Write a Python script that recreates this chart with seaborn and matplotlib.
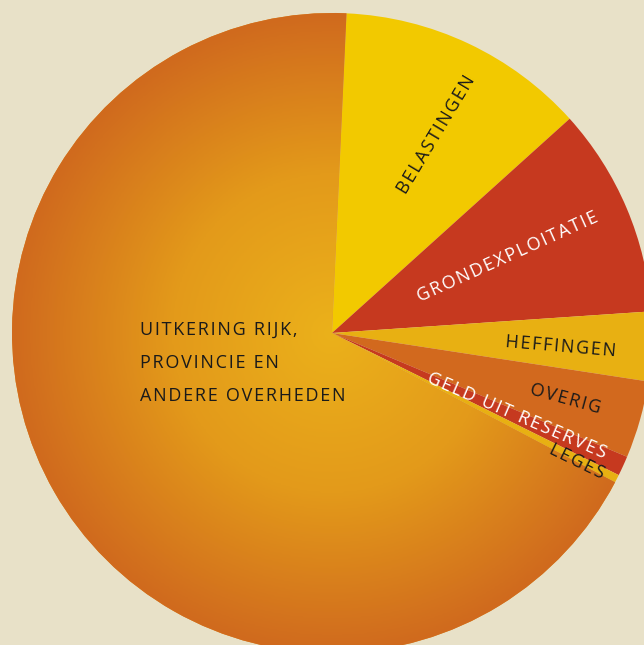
import numpy as np
import matplotlib
matplotlib.use("Agg")
import matplotlib.pyplot as plt
import seaborn as sns
from matplotlib.colors import LinearSegmentedColormap

# shares of the income (percent), clockwise from the top
labels = ["BELASTINGEN", "GRONDEXPLOITATIE", "HEFFINGEN", "OVERIG",
          "GELD UIT RESERVES", "LEGES",
          "UITKERING RIJK,\nPROVINCIE EN\nANDERE OVERHEDEN"]
values = [12.6, 10.6, 3.5, 3.9, 1.0, 0.4, 68.0]
colors = ["#F2C900", "#C6391F", "#E8B012", "#D2691E", "#C6391F", "#E8B012", "#DF8C1C"]
text_colors = ["#1a1a1a", "white", "#1a1a1a", "#1a1a1a", "white", "#1a1a1a", "#1a1a1a"]

bg = "#E8E1C8"
sns.set_theme(style="white")
plt.rcParams["font.family"] = ["Open Sans", "DejaVu Sans"]


def track(s):
    # letter spacing with hair spaces
    return "\n".join("\u200a".join(line) for line in s.split("\n"))


fig = plt.figure(figsize=(6.44, 6.45), dpi=100, facecolor=bg)
ax = fig.add_axes([0, 0, 1, 1])
ax.set_facecolor(bg)

wedges, _ = ax.pie(values, colors=colors, startangle=87.4, counterclock=False,
                   radius=1.0, wedgeprops=dict(linewidth=0))

# radial gradient on the big slice
cmap = LinearSegmentedColormap.from_list("glow", ["#EBB11A", "#E39A1A", "#D06A1E"])
g = np.linspace(-1, 1, 400)
xx, yy = np.meshgrid(g, g)
rr = np.sqrt(xx ** 2 + yy ** 2)
img = ax.imshow(rr, cmap=cmap, vmin=0, vmax=1, extent=[-1, 1, -1, 1],
                origin="lower", zorder=1)
img.set_clip_path(wedges[-1])

# label positions (data units) and rotations
pos = [(0.325, 0.619, 59), (0.55, 0.238, 24.3), (0.716, -0.044, -4.8),
       (0.728, -0.206, -15.5), (0.578, -0.259, -23.3), (0.766, -0.403, -26),
       (-0.6, -0.094, 0)]
for i, lab in enumerate(labels):
    x, y, rot = pos[i]
    if i == len(labels) - 1:
        ax.text(x, y, track(lab), ha="left", va="center", fontsize=13,
                color=text_colors[i], linespacing=2.1, zorder=3)
    else:
        ax.text(x, y, track(lab), ha="center", va="center", rotation=rot,
                rotation_mode="anchor", fontsize=13, color=text_colors[i], zorder=3)

ax.set_xlim(-332 / 320, 312 / 320)
ax.set_ylim(-312 / 320, 333 / 320)
ax.set_aspect("equal")
ax.axis("off")

fig.savefig("out.png", dpi=100, facecolor=bg)
